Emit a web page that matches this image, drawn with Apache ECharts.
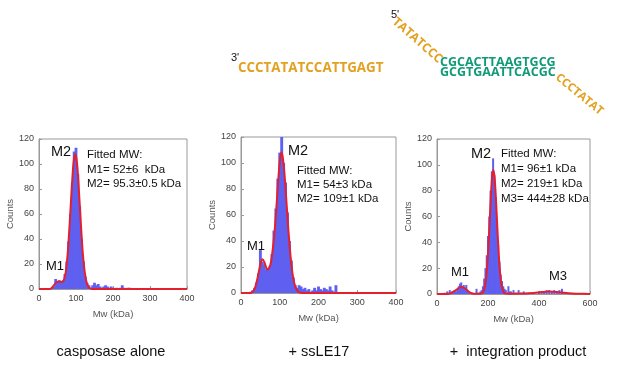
<!DOCTYPE html>
<html>
<head>
<meta charset="utf-8">
<script src="https://cdn.jsdelivr.net/npm/echarts@6/dist/echarts.min.js"></script>
<style>
  html, body { margin: 0; padding: 0; background: #fff; }
  #main { width: 617px; height: 367px; }
</style>
</head>
<body>
<div id="main"></div>
<script>
// histogram bins [Mw kDa, counts]
var histAlone = [[35,1],[40,2],[45,8],[50,6],[55,7],[60,6],[65,7],[70,12],[75,22],[80,38],[85,60],[90,85],[95,110],[100,113],[105,92],[110,66],[115,40],[120,22],[125,10],[130,5],[135,3],[140,1],[145,3],[150,5],[155,3],[160,4],[165,2],[170,1],[175,2],[180,3],[185,2],[190,1],[195,2],[200,1],[210,1],[220,1],[225,3],[230,1],[240,1],[245,1]];
var histSsLE = [[25,1],[30,2],[35,4],[40,8],[45,15],[50,33],[55,24],[60,22],[65,18],[70,19],[75,21],[80,30],[85,48],[90,65],[95,88],[100,108],[105,120],[110,100],[115,85],[120,62],[125,40],[130,25],[135,12],[140,6],[145,4],[150,6],[155,5],[160,3],[165,4],[170,2],[175,3],[180,1],[185,2],[190,4],[195,2],[200,5],[205,3],[210,2],[215,4],[220,3],[225,2],[230,5],[235,2],[240,1],[245,6]];
var histProduct = [[30,1],[40,2],[45,1],[50,3],[55,1],[60,2],[65,1],[70,3],[75,2],[80,4],[85,6],[90,8],[95,9],[100,6],[105,7],[110,5],[115,7],[120,3],[125,1],[130,1],[140,1],[155,4],[160,1],[170,2],[175,3],[180,6],[185,12],[190,20],[195,30],[200,45],[205,60],[210,80],[215,95],[220,105],[225,92],[230,75],[235,55],[240,38],[245,25],[250,15],[255,10],[260,6],[265,4],[270,3],[275,1],[280,6],[285,2],[290,2],[300,3],[310,1],[320,3],[330,1],[340,2],[350,1],[360,1],[380,1],[400,2],[410,1],[420,2],[430,3],[440,3],[450,2],[460,3],[470,2],[480,3],[490,4],[500,1]];

// fitted curves (red)
var fitAlone = [[0,0],[30,0],[35,1],[40,3],[45,4.7],[50,5.9],[55,6],[60,5.6],[65,6],[68,7.8],[70,10],[73,15],[78,30],[83,53],[88,78],[93,100],[98,108],[103,100],[108,78],[113,53],[118,30],[123,15],[128,6],[133,2],[138,0.6],[145,0],[400,0]];
var fitSsLE = [[0,0],[25,0],[30,1],[35,3],[40,8],[45,15],[50,22],[55,26],[60,24],[65,19.5],[68,18],[72,19],[76,22],[80,29],[85,42],[90,60],[95,82],[100,101],[104,108],[108,104],[112,92],[116,76],[120,58],[125,38],[130,22],[135,11],[140,5],[145,2],[150,0.5],[160,0],[400,0]];
var fitProduct = [[0,0],[40,0],[50,0.3],[60,1.2],[70,2.5],[80,3.9],[90,5.1],[96,5.5],[105,5],[115,3.5],[125,1.7],[135,0.6],[150,0.1],[170,0.2],[176,0.5],[181,1.6],[186,4.2],[191,9.6],[196,19.6],[201,34.6],[206,54],[211,74],[216,90],[221,96],[226,90],[231,74],[236,54],[241,34.6],[246,19.6],[251,9.6],[256,4.2],[261,1.6],[266,0.5],[280,0.2],[350,0.3],[380,0.8],[410,1.5],[440,2],[470,1.6],[500,0.9],[530,0.4],[570,0.1],[600,0]];

var xMax = [400, 400, 600];
var xStep = [100, 100, 200];
var fittedLines = [
  ['Fitted MW:', 'M1= 52±6  kDa', 'M2= 95.3±0.5 kDa'],
  ['Fitted MW:', 'M1= 54±3 kDa', 'M2= 109±1 kDa'],
  ['Fitted MW:', 'M1= 96±1 kDa', 'M2= 219±1 kDa', 'M3= 444±28 kDa']
];
var captions = ['casposase alone', '+ ssLE17', '+  integration product'];

var chart = echarts.init(document.getElementById('main'), null, { renderer: 'canvas' });

var grids = [
  { left: 39, top: 139, width: 148, height: 150 },
  { left: 241, top: 137, width: 155, height: 156 },
  { left: 437, top: 139, width: 153, height: 155 }
];
var barW = [2.8, 2.9, 2.0];
var hists = [histAlone, histSsLE, histProduct];
var fits = [fitAlone, fitSsLE, fitProduct];

var font = 'Liberation Sans, Arial, sans-serif';
var tickLabel = { fontSize: 9, color: '#444', fontFamily: font, margin: 5 };

var xAxes = [], yAxes = [], series = [];
for (var i = 0; i < 3; i++) {
  grids[i].show = true;
  grids[i].borderColor = '#999';
  grids[i].borderWidth = 1;
  xAxes.push({
    type: 'value', gridIndex: i, min: 0, max: xMax[i], interval: xStep[i],
    name: 'Mw (kDa)', nameLocation: 'middle', nameGap: 20,
    nameTextStyle: { fontSize: 9.5, color: '#555', fontFamily: font },
    axisLine: { lineStyle: { color: '#999' } },
    axisTick: { inside: true, length: 3, lineStyle: { color: '#999' } },
    axisLabel: tickLabel,
    splitLine: { show: false }
  });
  yAxes.push({
    type: 'value', gridIndex: i, min: 0, max: 120, interval: 20,
    name: 'Counts', nameLocation: 'middle', nameGap: 22,
    nameTextStyle: { fontSize: 9.5, color: '#555', fontFamily: font },
    axisLine: { show: true, lineStyle: { color: '#999' } },
    axisTick: { show: true, inside: true, length: 3, lineStyle: { color: '#999' } },
    axisLabel: tickLabel,
    splitLine: { show: false }
  });
  series.push({
    type: 'bar', xAxisIndex: i, yAxisIndex: i, data: hists[i],
    barWidth: barW[i], itemStyle: { color: '#5f5ff0' },
    silent: true, animation: false
  });
  series.push({
    type: 'line', xAxisIndex: i, yAxisIndex: i, data: fits[i],
    smooth: 0.3, symbol: 'none', z: 5,
    lineStyle: { color: '#e3202c', width: 2 },
    silent: true, animation: false
  });
}

var graphic = [];
function label(x, y, text, size, extra) {
  var st = { x: x, y: y, text: text, fontSize: size, fontFamily: font, fill: '#111', textVerticalAlign: 'middle' };
  if (extra) for (var k in extra) st[k] = extra[k];
  graphic.push({ type: 'text', style: st, silent: true });
}

// peak labels
label(51, 152, 'M2', 14.5); label(46, 266, 'M1', 13);
label(288, 151, 'M2', 14.5); label(247, 246, 'M1', 13);
label(471, 154, 'M2', 14.5); label(451, 272, 'M1', 13); label(549, 276, 'M3', 13);

// fitted values blocks
var fitPos = [[87, 155, 14.5], [297, 171, 13.8], [501, 154, 14.8]];
fittedLines.forEach(function (lines, p) {
  lines.forEach(function (t, j) {
    label(fitPos[p][0], fitPos[p][1] + j * fitPos[p][2], t, 11.5);
  });
});

// captions
var capX = [111, 319, 518];
captions.forEach(function (t, p) {
  label(capX[p], 352, t, 14.5, { textAlign: 'center' });
});

// DNA sequences
var orange = '#e3a122', green = '#0f9a78';
var dnaFont = 'Open Sans, sans-serif';
label(231, 58, "3'", 11);
graphic.push({ type: 'text', silent: true, style: { x: 238, y: 68, text: 'CCCTATATCCATTGAGT', fontSize: 13.4, fontWeight: 'bold', fontFamily: dnaFont, fill: orange, textVerticalAlign: 'middle' } });
label(391, 15, "5'", 11);
graphic.push({ type: 'text', silent: true, x: 394, y: 20, rotation: -0.72, style: { x: 0, y: 0, text: 'TATATCCC', fontSize: 12.3, fontWeight: 'bold', fontFamily: dnaFont, fill: orange, textVerticalAlign: 'middle' } });
graphic.push({ type: 'text', silent: true, style: { x: 440, y: 62, text: 'CGCACTTAAGTGCG', fontSize: 12.5, fontWeight: 'bold', fontFamily: dnaFont, fill: green, textVerticalAlign: 'middle' } });
graphic.push({ type: 'text', silent: true, style: { x: 440, y: 72, text: 'GCGTGAATTCACGC', fontSize: 12.5, fontWeight: 'bold', fontFamily: dnaFont, fill: green, textVerticalAlign: 'middle' } });
graphic.push({ type: 'text', silent: true, x: 557, y: 76, rotation: -0.69, style: { x: 0, y: 0, text: 'CCCTATAT', fontSize: 11.5, fontWeight: 'bold', fontFamily: dnaFont, fill: orange, textVerticalAlign: 'middle' } });

chart.setOption({
  backgroundColor: '#fff',
  animation: false,
  grid: grids,
  xAxis: xAxes,
  yAxis: yAxes,
  series: series,
  graphic: graphic
});
</script>
</body>
</html>
